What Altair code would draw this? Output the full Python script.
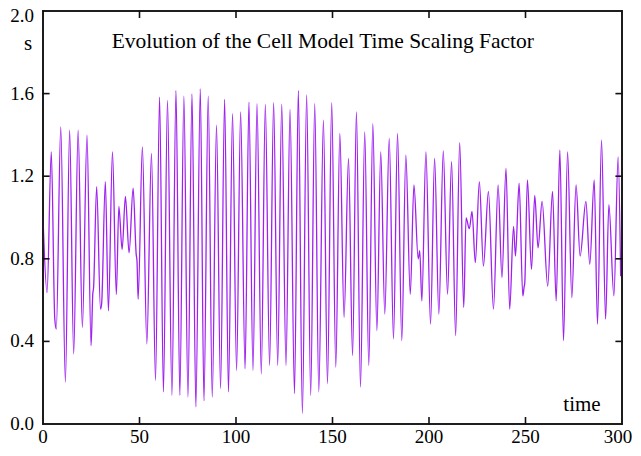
import altair as alt
import pandas as pd

# ---- data (time, scaling factor s) ----
time = [0.0, 2.1, 4.3, 6.1, 6.9, 9.2, 11.6, 13.8, 15.9, 18.2, 20.4, 22.8, 24.9, 25.8, 26.2,
        27.8, 29.8, 30.4, 32.3, 33.9, 36.0, 38.0, 39.3, 41.0, 42.7, 44.6, 46.7, 48.3, 48.7,
        49.3, 51.5, 53.8, 56.2, 58.3, 60.4, 62.4, 64.5, 66.8, 68.9, 70.9, 73.0, 75.1, 77.2,
        79.2, 81.5, 83.4, 85.6, 87.7, 89.9, 92.0, 94.1, 96.1, 98.2, 100.3, 102.4, 104.7,
        106.7, 108.8, 110.9, 113.1, 115.2, 117.4, 119.5, 121.6, 123.7, 125.9, 128.0, 130.3,
        132.3, 134.4, 136.6, 138.7, 140.8, 142.9, 145.3, 147.4, 149.6, 151.7, 153.8, 156.0,
        158.3, 160.4, 162.4, 164.5, 166.7, 168.8, 170.9, 173.0, 175.0, 177.1, 179.4, 181.6,
        183.7, 185.9, 188.0, 190.3, 192.2, 194.4, 195.2, 196.3, 198.4, 200.8, 202.9, 205.1,
        207.4, 209.6, 211.7, 213.8, 215.9, 218.0, 219.2, 220.9, 222.3, 224.0, 226.1, 228.2,
        230.8, 233.4, 235.8, 237.8, 239.9, 241.8, 243.8, 244.8, 246.7, 248.6, 249.3, 249.6,
        251.0, 253.1, 254.8, 256.5, 258.6, 261.5, 264.0, 265.9, 267.8, 269.7, 271.8, 274.0,
        276.2, 278.3, 281.3, 283.3, 285.6, 287.3, 289.4, 291.5, 293.2, 295.8, 298.0, 299.3]

s_value = [1.00, 0.636, 1.318, 0.51, 0.46, 1.439, 0.203, 1.423, 0.339, 1.423, 0.468, 1.399, 0.379, 0.63, 0.66,
           1.150, 0.556, 0.585, 1.174, 0.548, 1.318, 0.627, 1.054, 0.845, 1.102, 0.829, 1.142, 0.82, 0.79,
           0.604, 1.342, 0.388, 1.310, 0.211, 1.583, 0.155, 1.567, 0.139, 1.615, 0.139, 1.588, 0.130, 1.599,
           0.083, 1.623, 0.112, 1.588, 0.130, 1.447, 0.171, 1.572, 0.155, 1.503, 0.259, 1.511, 0.267,
           1.559, 0.259, 1.551, 0.243, 1.548, 0.283, 1.556, 0.283, 1.549, 0.283, 1.524, 0.147,
           1.615, 0.051, 1.594, 0.139, 1.551, 0.155, 1.471, 0.195, 1.556, 0.275, 1.407, 0.516,
           1.286, 0.331, 1.511, 0.179, 1.415, 0.283, 1.455, 0.452, 1.318, 0.532, 1.383, 0.412,
           1.407, 0.404, 1.302, 0.628, 1.158, 0.80, 0.84, 0.596, 1.318, 0.484, 1.286, 0.532,
           1.323, 0.628, 1.270, 0.428, 1.363, 0.564, 0.998, 0.946, 1.030, 0.781, 1.174, 0.765,
           1.126, 0.556, 1.158, 0.709, 1.238, 0.556, 0.957, 0.813, 1.166, 0.620, 0.665, 0.68,
           1.182, 0.749, 1.107, 0.853, 1.078, 0.668, 1.126, 0.596, 1.326, 0.404, 1.318, 0.612,
           1.158, 0.813, 1.078, 0.773, 1.182, 0.484, 1.375, 0.508, 1.062, 0.620, 1.294, 0.716]

x_label_values = [0, 50, 100, 150, 200, 250, 300]
y_label_values = [0.0, 0.4, 0.8, 1.2, 1.6, 2.0]
x_inner_ticks = [50, 100, 150, 200, 250]
y_inner_ticks = [0.4, 0.8, 1.2, 1.6]
chart_title = "Evolution of the Cell Model Time Scaling Factor"
x_title, y_title = "time", "s"
title_time, title_s = 145, 1.82

FONT = "Liberation Serif"
LINE_COLOR = "#a020f0"
FRAME_COLOR = "#111111"
X_MIN, X_MAX, Y_MIN, Y_MAX = 0, 300, 0.0, 2.0
X_TICK_LEN, Y_TICK_LEN = 3.0, 0.03   # inward tick length, data units

df = pd.DataFrame({"time": time, "s": s_value})

# frame sides and inward ticks on all four sides, as short polylines
segments = []
for v in x_inner_ticks:
    segments.append(((v, Y_MIN), (v, Y_MIN + Y_TICK_LEN)))
    segments.append(((v, Y_MAX), (v, Y_MAX - Y_TICK_LEN)))
for v in y_inner_ticks:
    segments.append(((X_MIN, v), (X_MIN + X_TICK_LEN, v)))
    segments.append(((X_MAX, v), (X_MAX - X_TICK_LEN, v)))
segments.append(((X_MIN, Y_MIN), (X_MAX, Y_MIN)))
segments.append(((X_MIN, Y_MAX), (X_MAX, Y_MAX)))
segments.append(((X_MIN, Y_MIN), (X_MIN, Y_MAX)))
segments.append(((X_MAX, Y_MIN), (X_MAX, Y_MAX)))
seg_rows = []
for i, (a, b) in enumerate(segments):
    seg_rows.append({"seg": i, "order": 0, "time": a[0], "s": a[1]})
    seg_rows.append({"seg": i, "order": 1, "time": b[0], "s": b[1]})
segs = pd.DataFrame(seg_rows)

xlab = pd.DataFrame({"time": x_label_values, "lab": [str(v) for v in x_label_values]})
ylab = pd.DataFrame({"s": y_label_values, "lab": [f"{v:.1f}" for v in y_label_values]})

xscale = alt.Scale(domain=[X_MIN, X_MAX], nice=False, zero=False)
yscale = alt.Scale(domain=[Y_MIN, Y_MAX], nice=False, zero=False)

XF = alt.X("time:Q", scale=xscale, axis=None)
YF = alt.Y("s:Q", scale=yscale, axis=None)


def xd(v):
    return alt.XDatum(v, type="quantitative", scale=xscale, axis=None)


def yd(v):
    return alt.YDatum(v, type="quantitative", scale=yscale, axis=None)


line = alt.Chart(df).mark_line(color=LINE_COLOR, strokeWidth=1.3, interpolate="monotone").encode(
    x=XF, y=YF
)

frame = alt.Chart(segs).mark_line(color=FRAME_COLOR, strokeWidth=1.6, strokeCap="square").encode(
    x=XF, y=YF, detail="seg:N", order="order:Q"
)

text_style = dict(font=FONT, color="black")

x_labels_mid = alt.Chart(xlab[xlab["time"] < X_MAX]).mark_text(
    fontSize=19, align="center", baseline="top", dy=4, **text_style
).encode(x=XF, y=yd(Y_MIN), text="lab:N")

x_label_end = alt.Chart(xlab[xlab["time"] == X_MAX]).mark_text(
    fontSize=19, align="center", baseline="top", dy=4, dx=-4, **text_style
).encode(x=XF, y=yd(Y_MIN), text="lab:N")

y_labels_low = alt.Chart(ylab[ylab["s"] < Y_MAX]).mark_text(
    fontSize=19, align="right", baseline="middle", dx=-9, **text_style
).encode(x=xd(X_MIN), y=YF, text="lab:N")

y_label_top = alt.Chart(ylab[ylab["s"] == Y_MAX]).mark_text(
    fontSize=19, align="right", baseline="middle", dx=-9, dy=5, **text_style
).encode(x=xd(X_MIN), y=YF, text="lab:N")

s_label = alt.Chart(pd.DataFrame({"lab": [y_title]})).mark_text(
    fontSize=21, align="center", baseline="alphabetic", dx=-15, **text_style
).encode(x=xd(X_MIN), y=yd(1.81), text="lab:N")

time_label = alt.Chart(pd.DataFrame({"lab": [x_title]})).mark_text(
    fontSize=21, align="center", baseline="alphabetic", dx=-40, dy=-13, **text_style
).encode(x=xd(X_MAX), y=yd(Y_MIN), text="lab:N")

title_layer = alt.Chart(pd.DataFrame({"lab": [chart_title]})).mark_text(
    fontSize=21.5, align="center", baseline="alphabetic", **text_style
).encode(x=xd(title_time), y=yd(title_s), text="lab:N")

chart = alt.layer(
    line, frame, x_labels_mid, x_label_end, y_labels_low, y_label_top,
    s_label, time_label, title_layer
).properties(
    width=579, height=413,
    padding={"left": 35, "top": 3, "right": 11, "bottom": 24},
    autosize=alt.AutoSizeParams(type="none"),
).configure_view(
    stroke=FRAME_COLOR, strokeWidth=1.5
)

chart.save("out.html", embed_options={"renderer": "svg", "actions": False})
